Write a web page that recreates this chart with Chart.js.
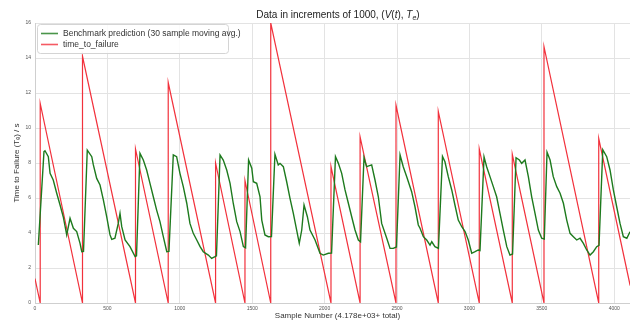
<!DOCTYPE html>
<html>
<head>
<meta charset="utf-8">
<style>
  html, body { margin: 0; padding: 0; background: #fff; overflow: hidden; }
  #wrap { width: 641px; height: 322px; position: relative; }
</style>
<script src="https://cdn.jsdelivr.net/npm/chart.js@4/dist/chart.umd.min.js"></script>
</head>
<body>
<div id="wrap"><canvas id="ttfChart"></canvas></div>
<script>
/* ── Data ──────────────────────────────────────────────── */
const TOTAL_SAMPLES = 4178;

/* time_to_failure: sawtooth vertices (sample, seconds) */
const ttfSample = [0, 36, 36, 328, 328, 694, 694, 920, 920, 1247, 1247, 1450, 1450,
  1628, 1628, 2044, 2044, 2245, 2245, 2493, 2493, 2785, 2785, 3068, 3068,
  3296, 3296, 3515, 3515, 3893, 3893, 4110];
const ttfValue  = [1.4, 0, 11.4, 0, 14.1, 0, 8.8, 0, 12.6, 0, 8.0, 0, 7.0,
  0, 16.0, 0, 7.8, 0, 9.5, 0, 11.3, 0, 10.95, 0, 8.8,
  0, 8.5, 0, 14.65, 0, 9.4, 1.0];

/* Benchmark prediction (30 sample moving avg.) */
const predSample = [23, 62, 69, 92, 104, 126, 150, 173, 195, 219, 242, 265, 288, 311, 323, 335,
  361, 392, 403, 426, 449, 472, 495, 518, 530, 552, 575, 587, 599, 622, 656, 691, 701,
  725, 748, 771, 794, 817, 840, 863, 886, 910, 925,
  955, 978, 1001, 1024, 1048, 1070, 1093, 1117, 1140, 1162, 1197, 1220, 1243, 1253,
  1278, 1300, 1324, 1347, 1369, 1393, 1416, 1439, 1454,
  1475, 1497, 1508, 1531, 1554, 1566, 1588, 1611, 1633,
  1657, 1680, 1692, 1715, 1738, 1761, 1784, 1807, 1825, 1842, 1858, 1881, 1899, 1934, 1968, 1991, 2026, 2048,
  2075, 2095, 2118, 2141, 2164, 2187, 2210, 2233, 2248,
  2272, 2290, 2325, 2348, 2371, 2394, 2429, 2452, 2474, 2496,
  2521, 2543, 2567, 2601, 2624, 2647, 2659, 2682, 2705, 2728, 2740, 2762, 2786,
  2814, 2831, 2854, 2878, 2900, 2923, 2947, 2970, 2992, 3016, 3039, 3061, 3073,
  3101, 3119, 3142, 3165, 3188, 3211, 3234, 3258, 3280, 3298,
  3322, 3345, 3361, 3384, 3407, 3430, 3453, 3476, 3499, 3517,
  3536, 3557, 3579, 3603, 3626, 3649, 3672, 3695, 3718, 3741, 3764, 3787, 3810, 3833, 3856, 3879, 3895,
  3921, 3948, 3971, 3994, 4017, 4040, 4063, 4087, 4109];
const predValue = [3.31, 8.65, 8.7, 8.36, 7.41, 7.03, 6.27, 5.6, 4.93, 3.89, 4.84, 4.27, 4.08, 3.41, 2.93, 2.95,
  8.74, 8.36, 7.89, 7.12, 6.74, 5.89, 4.93, 3.89, 3.64, 3.7, 4.55, 5.12, 4.36, 3.6, 3.22, 2.65, 2.7,
  8.55, 8.17, 7.6, 6.84, 6.07, 5.31, 4.65, 3.79, 2.93, 2.95,
  8.46, 8.36, 7.41, 6.65, 5.7, 4.55, 3.98, 3.6, 3.22, 2.93, 2.74, 2.55, 2.65, 2.7,
  8.46, 8.17, 7.6, 6.84, 5.7, 4.65, 4.08, 3.22, 3.15,
  8.17, 7.7, 6.93, 6.84, 6.07, 4.74, 3.89, 3.79, 3.8,
  8.5, 7.89, 7.98, 7.79, 6.93, 5.98, 5.12, 4.17, 3.41, 4.17, 5.6, 4.93, 4.17, 3.6, 2.84, 2.74, 2.84, 2.85,
  8.36, 7.98, 7.41, 6.46, 5.7, 4.93, 4.17, 3.6, 3.5,
  8.3, 7.79, 7.89, 7.03, 6.07, 4.55, 3.7, 3.12, 3.12, 3.2,
  8.46, 7.79, 7.22, 6.36, 5.5, 4.46, 4.27, 3.79, 3.6, 3.31, 3.5, 3.22, 3.12,
  8.38, 8.07, 7.22, 6.46, 5.6, 4.74, 4.36, 4.08, 3.6, 2.84, 2.93, 3.03, 3.0,
  8.35, 7.79, 7.22, 6.65, 6.07, 5.12, 4.17, 3.22, 2.74, 2.8,
  8.3, 8.17, 7.98, 8.17, 7.22, 6.07, 5.12, 4.17, 3.7, 3.65,
  8.62, 8.17, 7.22, 6.65, 6.27, 5.7, 4.74, 3.98, 3.79, 3.6, 3.7, 3.41, 3.03, 2.74, 2.93, 3.22, 3.3,
  8.76, 8.36, 7.6, 6.46, 5.5, 4.55, 3.79, 3.7, 4.07];

const yTicks = [0, 2, 4, 6, 8, 10, 12, 14, 16];
const xTicks = [0, 500, 1000, 1500, 2000, 2500, 3000, 3500, 4000];

(function () {
  'use strict';

  const FONT   = "'Liberation Sans', Arial, sans-serif";
  const GREEN  = '#1d7a1d';
  const RED    = '#f2313c';

  /* ── Title with italic math parts ──────────────────────── */
  const mathTitle = {
    id: 'mathTitle',
    afterDraw(chart) {
      const ctx = chart.ctx;
      const parts = [
        { t: 'Data in increments of 1000, (', it: false },
        { t: 'V', it: true }, { t: '(', it: false }, { t: 't', it: true },
        { t: '), ', it: false }, { t: 'T', it: true },
        { t: 'e', it: true, sub: true }, { t: ')', it: false },
      ];
      const fnt = (p) => `${p.it ? 'italic ' : ''}${p.sub ? 7 : 10}px ${FONT}`;
      ctx.save();
      let w = 0;
      parts.forEach(p => { ctx.font = fnt(p); w += ctx.measureText(p.t).width; });
      let x = 338 - w / 2;
      const y = 18;
      ctx.fillStyle = '#222';
      ctx.textBaseline = 'alphabetic';
      parts.forEach(p => {
        ctx.font = fnt(p);
        ctx.fillText(p.t, x, p.sub ? y + 2 : y);
        x += ctx.measureText(p.t).width;
      });
      ctx.restore();
    }
  };

  /* ── Legend box inside the plot (upper left) ───────────── */
  const boxLegend = {
    id: 'boxLegend',
    afterDatasetsDraw(chart) {
      const ctx = chart.ctx;
      const a = chart.chartArea;
      const bx = a.left + 2, by = a.top + 1, bw = 191, bh = 29;
      ctx.save();
      ctx.fillStyle = 'rgba(255,255,255,0.85)';
      ctx.strokeStyle = '#d4d4d4';
      ctx.lineWidth = 1;
      ctx.beginPath();
      ctx.roundRect(bx + 0.5, by + 0.5, bw, bh, 3);
      ctx.fill();
      ctx.stroke();
      ctx.font = `8.5px ${FONT}`;
      ctx.textBaseline = 'middle';
      chart.data.datasets.forEach((ds, i) => {
        const ly = by + 9.5 + i * 11;
        ctx.strokeStyle = ds.borderColor;
        ctx.globalAlpha = 0.8;
        ctx.lineWidth = 1.6;
        ctx.beginPath();
        ctx.moveTo(bx + 4, ly);
        ctx.lineTo(bx + 21, ly);
        ctx.stroke();
        ctx.globalAlpha = 1;
        ctx.fillStyle = '#333';
        ctx.fillText(ds.label, bx + 26, ly + 0.5);
      });
      ctx.restore();
    }
  };

  const toPts = (xs, ys) => xs.map((x, i) => ({ x, y: ys[i] }));

  new Chart(document.getElementById('ttfChart'), {
    type: 'line',
    data: {
      datasets: [
        {
          label: 'Benchmark prediction (30 sample moving avg.)',
          data: toPts(predSample, predValue),
          borderColor: GREEN,
          borderWidth: 1.4,
          pointRadius: 0,
          tension: 0,
        },
        {
          label: 'time_to_failure',
          data: toPts(ttfSample, ttfValue),
          borderColor: RED,
          borderWidth: 1.2,
          pointRadius: 0,
          tension: 0,
        }
      ]
    },
    options: {
      responsive: true,
      maintainAspectRatio: false,
      animation: false,
      layout: { padding: { top: 23, right: 1, left: 0, bottom: 0 } },
      plugins: { legend: { display: false }, tooltip: { enabled: false } },
      scales: {
        x: {
          type: 'linear',
          min: 0,
          max: TOTAL_SAMPLES,
          afterBuildTicks: s => { s.ticks = xTicks.map(v => ({ value: v })); },
          grid: { color: '#e3e3e3', drawTicks: false },
          border: { color: '#cfcfcf' },
          ticks: {
            padding: 3, autoSkip: false, maxRotation: 0,
            color: '#555', font: { size: 5, family: FONT },
            callback: v => String(v)
          },
          title: {
            display: true,
            text: 'Sample Number (4.178e+03+ total)',
            color: '#333',
            font: { size: 8, family: FONT },
            padding: { top: 0, bottom: 1 }
          },
          afterFit: s => { s.height = 19; }
        },
        y: {
          min: 0,
          max: 16,
          afterBuildTicks: s => { s.ticks = yTicks.map(v => ({ value: v })); },
          grid: { color: '#e3e3e3', drawTicks: false },
          border: { color: '#cfcfcf' },
          ticks: { padding: 4, color: '#555', font: { size: 5, family: FONT } },
          title: {
            display: true,
            text: 'Time to Failure (Tₑ) / s',
            color: '#333',
            font: { size: 8, family: FONT },
            padding: { top: 12, bottom: 0 }
          },
          afterFit: s => { s.width = 35; }
        }
      }
    },
    plugins: [mathTitle, boxLegend]
  });
})();
</script>
</body>
</html>
